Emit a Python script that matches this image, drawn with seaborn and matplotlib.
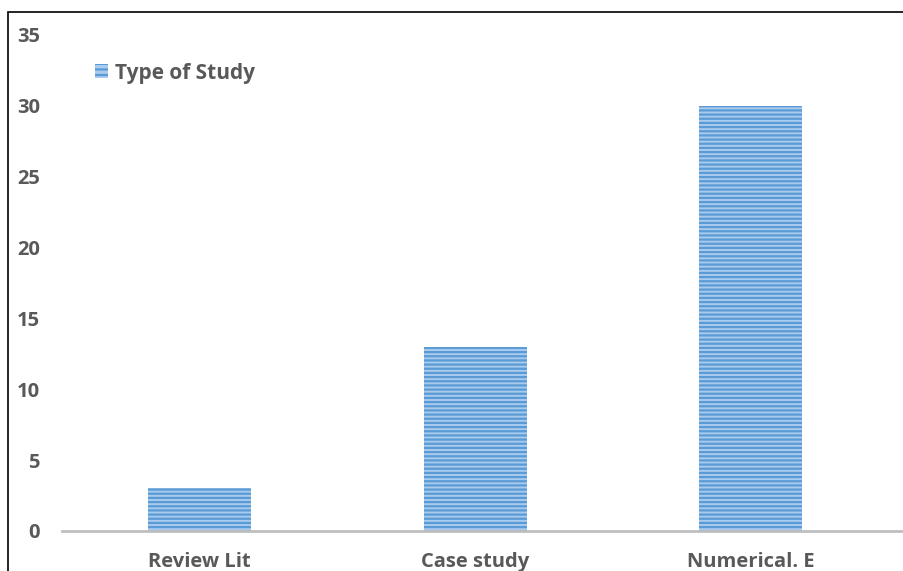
import matplotlib
matplotlib.use("Agg")
import matplotlib.pyplot as plt
from matplotlib.patches import Rectangle, Patch
import seaborn as sns

categories = ["Review Lit", "Case study", "Numerical. E"]
counts = [3, 13, 30]
series_name = "Type of Study"
y_ticks = [0, 5, 10, 15, 20, 25, 30, 35]

sns.set_style("white")
plt.rcParams["font.family"] = ["Open Sans", "DejaVu Sans"]
plt.rcParams["hatch.linewidth"] = 1.6

W, H = 904, 571
fig = plt.figure(figsize=(W / 100, H / 100), dpi=100)
ax = fig.add_axes([62 / W, 40 / H, 1 - 62 / W, 496 / H])

fill = "#a9cbee"
stripe = "#5b9bd5"
sns.barplot(x=categories, y=counts, ax=ax, color=fill, saturation=1,
            width=0.374, hatch="----", edgecolor=stripe, linewidth=0)

ax.set_xlim(-0.5, 2.556)
ax.set_ylim(0, 35)
ax.set_yticks(y_ticks)
ax.set_xlabel("")
ax.set_ylabel("")
for s in ["top", "right", "left"]:
    ax.spines[s].set_visible(False)
ax.spines["bottom"].set_color("#bfbfbf")
ax.spines["bottom"].set_linewidth(2)
ax.tick_params(axis="both", length=0, colors="#595959", labelsize=14.5)
ax.tick_params(axis="y", pad=16)
ax.tick_params(axis="x", pad=15)
for t in ax.get_xticklabels() + ax.get_yticklabels():
    t.set_fontweight("bold")

handle = Patch(facecolor=fill, edgecolor=stripe, hatch="---", linewidth=0)
leg = fig.legend(handles=[handle], labels=[series_name], loc="center left",
                 bbox_to_anchor=(76 / W, 1 - 73 / H), frameon=False,
                 handlelength=0.65, handleheight=0.65, handletextpad=0.3,
                 prop={"size": 15, "weight": "bold"})
for txt in leg.get_texts():
    txt.set_color("#595959")

# outer frame of the chart area
fig.patches.append(Rectangle((8 / W, -0.1), 1.2, 1.1 - 12 / H,
                             transform=fig.transFigure, fill=False,
                             edgecolor="black", linewidth=1.2, zorder=10))

fig.savefig("out.png", dpi=100)
